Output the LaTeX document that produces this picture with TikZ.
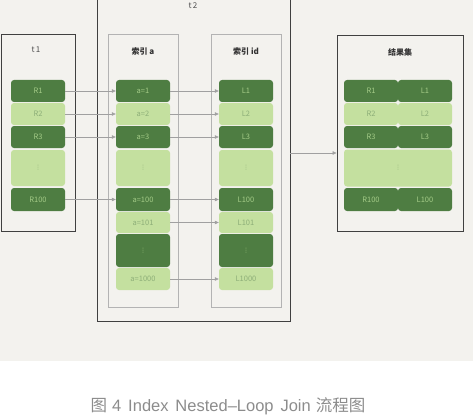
\documentclass[tikz,border=0pt]{standalone}
\usepackage{fontspec}
\setmainfont{Noto Sans CJK SC}
\newfontfamily\symfont{DejaVu Sans}
\newfontfamily\latinfont[WordSpace={1.5}]{Liberation Sans}
\usetikzlibrary{arrows.meta}
\definecolor{bgcol}{HTML}{F3F2EE}
\definecolor{darkg}{HTML}{4E7D42}
\definecolor{lightg}{HTML}{C4E09F}
\definecolor{darktxt}{HTML}{A3CB87}
\definecolor{lighttxt}{HTML}{8DAE78}
\definecolor{linecol}{HTML}{A0A0A0}
\newcommand{\vd}{{\symfont\fontsize{6}{6}\selectfont ⋮}}
\tikzset{
  cell/.style={rounded corners=3pt, minimum width=54pt, minimum height=22pt, inner sep=0pt, font=\fontsize{7.5}{8}\selectfont},
  darkcell/.style={cell, fill=darkg, text=darktxt},
  lightcell/.style={cell, fill=lightg, text=lighttxt},
  tablebox/.style={draw=black!75, line width=0.9pt, inner sep=0pt},
  indexbox/.style={draw=linecol!80, line width=0.9pt, inner sep=0pt},
  link/.style={draw=linecol, line width=0.6pt, -{Triangle[length=4pt,width=3.5pt]}},
  title/.style={font=\fontsize{8}{9}\selectfont\bfseries, text=black!80}
}
\begin{document}
\begin{tikzpicture}[x=1pt, y=-1pt]  % 坐标按像素写

    % 画布与背景
    \useasboundingbox (0,0) rectangle (473,417);
    \clip (0,0) rectangle (473,417);
    \fill[bgcol] (0,0) rectangle (473,361);

    % 三个外框
    \node[tablebox, minimum width=74pt, minimum height=197pt] (t1box) at (38,132.5) {};
    \node[tablebox, minimum width=193pt, minimum height=336pt] (t2box) at (193.5,153) {};
    \node[tablebox, minimum width=126pt, minimum height=196pt] (resbox) at (400,133) {};

    % t2 里的两个索引
    \node[indexbox, minimum width=70pt, minimum height=273pt] (idxa) at (143,170.5) {};
    \node[indexbox, minimum width=70pt, minimum height=273pt] (idxid) at (246,170.5) {};

    % 标题
    \node[font=\fontsize{8}{9}\selectfont, text=black!70] (t1lab) at (36,50) {t\,1};
    \node[font=\fontsize{8}{9}\selectfont, text=black!70] (t2lab) at (193,6) {t\,2};
    \node[title] (alab) at (143,51) {索引 \textit{a}};
    \node[title] (idlab) at (246,51) {索引 \textit{id}};
    \node[title] (reslab) at (400,52) {结果集};

    % t1 的行
    \node[darkcell] (r1) at (38,91) {R1};
    \node[lightcell] (r2) at (38,114) {R2};
    \node[darkcell] (r3) at (38,137) {R3};
    \node[lightcell, minimum height=36pt] (rdots) at (38,168) {\vd};
    \node[darkcell, minimum height=23pt] (r100) at (38,199.5) {R100};

    % 索引 a 的行
    \node[darkcell] (a1) at (143,91) {a=1};
    \node[lightcell] (a2) at (143,114) {a=2};
    \node[darkcell] (a3) at (143,137) {a=3};
    \node[lightcell, minimum height=36pt] (adots) at (143,168) {\vd};
    \node[darkcell, minimum height=23pt] (a100) at (143,199.5) {a=100};
    \node[lightcell, minimum height=21pt] (a101) at (143,222.5) {a=101};
    \node[darkcell, minimum height=33pt] (adots2) at (143,250.5) {\vd};
    \node[lightcell] (a1000) at (143,279) {a=1000};

    % 主键索引 id 的行
    \node[darkcell] (l1) at (246,91) {L1};
    \node[lightcell] (l2) at (246,114) {L2};
    \node[darkcell] (l3) at (246,137) {L3};
    \node[lightcell, minimum height=36pt] (ldots) at (246,168) {\vd};
    \node[darkcell, minimum height=23pt] (l100) at (246,199.5) {L100};
    \node[lightcell, minimum height=21pt] (l101) at (246,222.5) {L101};
    \node[darkcell, minimum height=33pt] (ldots2) at (246,250.5) {\vd};
    \node[lightcell] (l1000) at (246,279) {L1000};

    % 结果集
    \node[darkcell] (s1r) at (371,91) {R1};
    \node[darkcell] (s1l) at (425,91) {L1};
    \node[lightcell] (s2r) at (371,114) {R2};
    \node[lightcell] (s2l) at (425,114) {L2};
    \node[darkcell] (s3r) at (371,137) {R3};
    \node[darkcell] (s3l) at (425,137) {L3};
    \node[lightcell, minimum width=108pt, minimum height=37pt] (sdots) at (398,168) {\vd};
    \node[darkcell, minimum height=23pt] (s100r) at (371,199.5) {R100};
    \node[darkcell, minimum height=23pt] (s100l) at (425,199.5) {L100};

    % 连线
    \foreach \from/\to in {r1/a1, r2/a2, r3/a3, r100/a100,
                           a1/l1, a2/l2, a3/l3, a100/l100, a101/l101, a1000/l1000}
        \draw[link] (\from) -- (\to);
    \draw[link] (t2box.east) -- (t2box.east -| resbox.west);

    % 图注
    \node[font=\fontsize{16.5}{18}\selectfont, text=black!45] (cap) at (228,406)
        {图\hspace{5pt}{\latinfont 4 Index Nested–Loop Join}\hspace{5pt}流程图};

\end{tikzpicture}
\end{document}
